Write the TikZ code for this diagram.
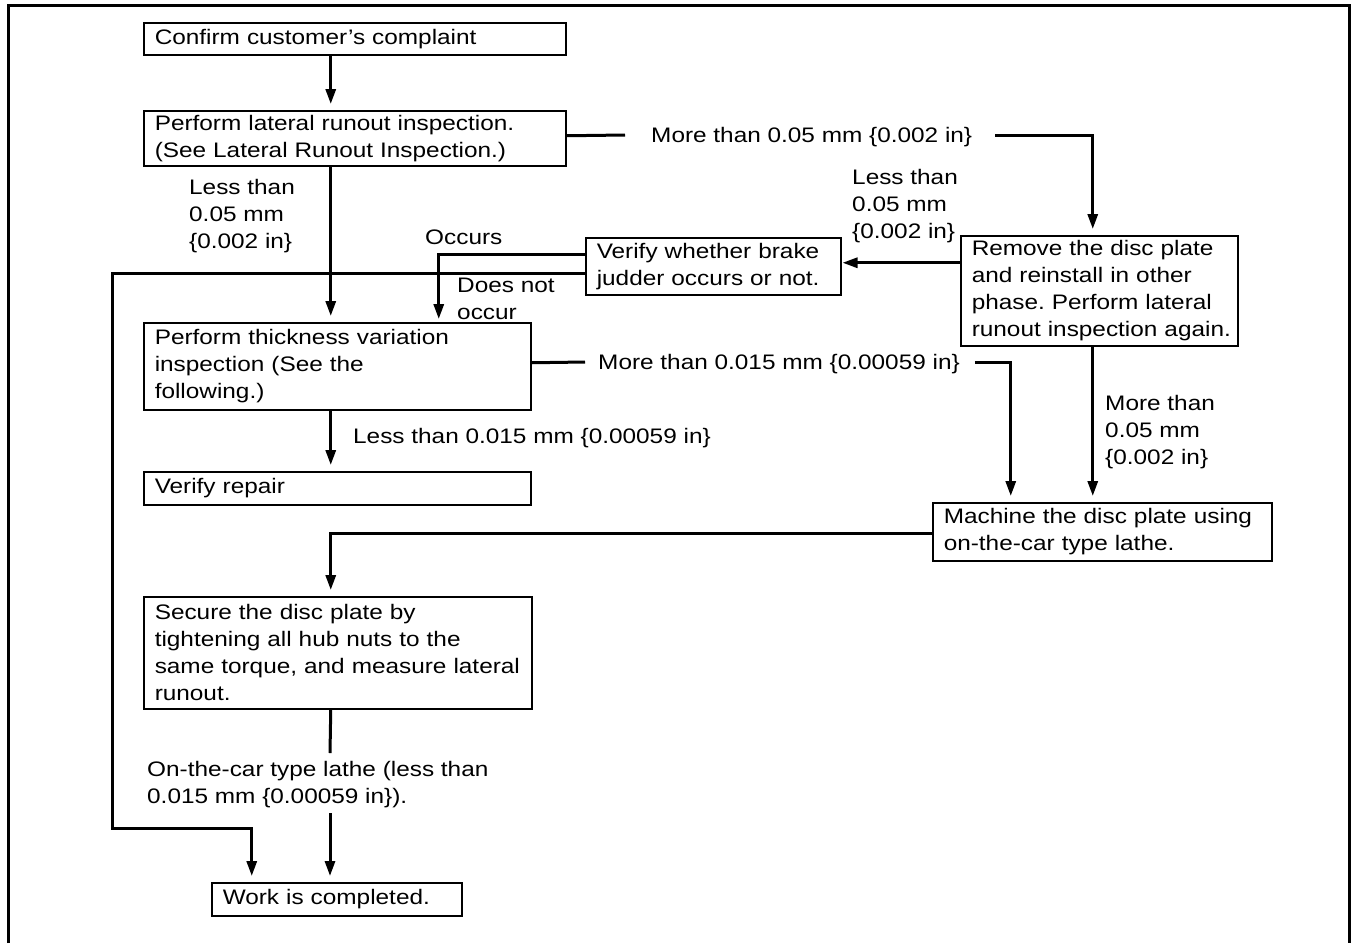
\documentclass[tikz,border=0pt]{standalone}
\usepackage{fontspec}
\setmainfont{Liberation Sans}[FakeStretch=1.16]
\usetikzlibrary{arrows.meta,calc}
\begin{document}
\frenchspacing
\begin{tikzpicture}[x=1pt,y=-1pt,
  font=\fontsize{21}{27}\selectfont,
  box/.style={draw, line width=1.5pt, rectangle, anchor=north west, align=left,
    inner xsep=11pt, inner ysep=0pt},
  lbl/.style={inner sep=0pt, align=left, anchor=west},
  conn/.style={line width=3pt},
  arr/.style={conn, -{Triangle[length=15pt,width=10pt]}, shorten >=6pt}]
\useasboundingbox (0,0) rectangle (1351,943);
\draw[line width=3pt] (8.5,943) -- (8.5,5.5) -- (1349.5,5.5) -- (1349.5,943);

% boxes
\node[box, text width=400pt, minimum height=32pt] (conf) at (143,22)
  {\mbox{Confirm customer's complaint}};
\node[box, text width=400pt, minimum height=55pt] (lat) at (143,110)
  {\mbox{Perform lateral runout inspection.}\\\mbox{(See Lateral Runout Inspection.)}};
\node[box, text width=255pt, minimum height=110pt] (rem) at (960,235)
  {\mbox{Remove the disc plate}\\\mbox{and reinstall in other}\\\mbox{phase. Perform lateral}\\\mbox{runout inspection again.}};
\node[box, text width=233pt, minimum height=57pt] (ver) at (585,237)
  {\mbox{Verify whether brake}\\\mbox{judder occurs or not.}};
\node[box, text width=365pt, minimum height=87pt] (thk) at (143,322)
  {\mbox{Perform thickness variation}\\\mbox{inspection (See the}\\\mbox{following.)}};
\node[box, text width=365pt, minimum height=33pt] (rep) at (143,471)
  {\mbox{Verify repair}};
\node[box, text width=317pt, minimum height=58pt] (mac) at (932,502)
  {\mbox{Machine the disc plate using}\\\mbox{on-the-car type lathe.}};
\node[box, text width=366pt, minimum height=112pt] (sec) at (143,596)
  {\mbox{Secure the disc plate by}\\\mbox{tightening all hub nuts to the}\\\mbox{same torque, and measure lateral}\\\mbox{runout.}};
\node[box, text width=228pt, minimum height=33pt] (work) at (211,882)
  {\mbox{Work is completed.}};

% labels
\node[lbl] (l1) at (651,137) {More than 0.05 mm \{0.002 in\}};
\node[lbl] (l2) at (189,216.5) {Less than\\0.05 mm\\\{0.002 in\}};
\node[lbl] (l3) at (852,206) {Less than\\0.05 mm\\\{0.002 in\}};
\node[lbl] (l4) at (425,237.5) {Occurs};
\node[lbl] (l5) at (457,299) {Does not\\occur};
\node[lbl] (l6) at (598,364) {More than 0.015 mm \{0.00059 in\}};
\node[lbl] (l7) at (1105,432) {More than\\0.05 mm\\\{0.002 in\}};
\node[lbl] (l8) at (353,438) {Less than 0.015 mm \{0.00059 in\}};
\node[lbl] (l9) at (147,785) {On-the-car type lathe (less than\\0.015 mm \{0.00059 in\}).};

\coordinate (c1) at (330,753);
\coordinate (c2) at (330,813);
\coordinate (lp) at (112,828);

% connectors
\draw[arr] ([xshift=-24pt]conf.south) -- ([xshift=-24pt]conf.south |- lat.north);
\draw[conn] ([yshift=2.5pt]lat.east) -- ([xshift=-26pt,yshift=2pt]l1.west);
\draw[arr] ([xshift=23pt,yshift=2pt]l1.east) -| ([xshift=-6.5pt]rem.north);
\draw[arr] ([xshift=-24pt]lat.south) -- ([xshift=-24pt]lat.south |- thk.north);
\draw[arr, shorten >=1pt] ([yshift=28pt]rem.west) -- ([yshift=28pt]rem.west -| ver.east);
\draw[arr, shorten >=3pt] ([yshift=11.5pt]ver.west) -| ([xshift=101.5pt]thk.north);
\draw[arr] ([yshift=-7.5pt]ver.west) -| (lp) -| ([xshift=-85pt]work.north);
\draw[arr] ([xshift=-6.5pt]thk.south) -- ([xshift=-6.5pt]thk.south |- rep.north);
\draw[conn] ([yshift=3.5pt]thk.east) -- ([xshift=-13pt,yshift=2pt]l6.west);
\draw[arr] ([xshift=15pt,yshift=2pt]l6.east) -| ([xshift=-91.5pt]mac.north);
\draw[arr] ([xshift=-6.5pt]rem.south) -- ([xshift=-6.5pt]rem.south |- mac.north);
\draw[arr] ([yshift=-2pt]mac.west) -| ([xshift=-7pt]sec.north);
\draw[conn] ([xshift=-7pt]sec.south) -- (c1);
\draw[arr] (c2) -- (c2 |- work.north);
\end{tikzpicture}
\end{document}
